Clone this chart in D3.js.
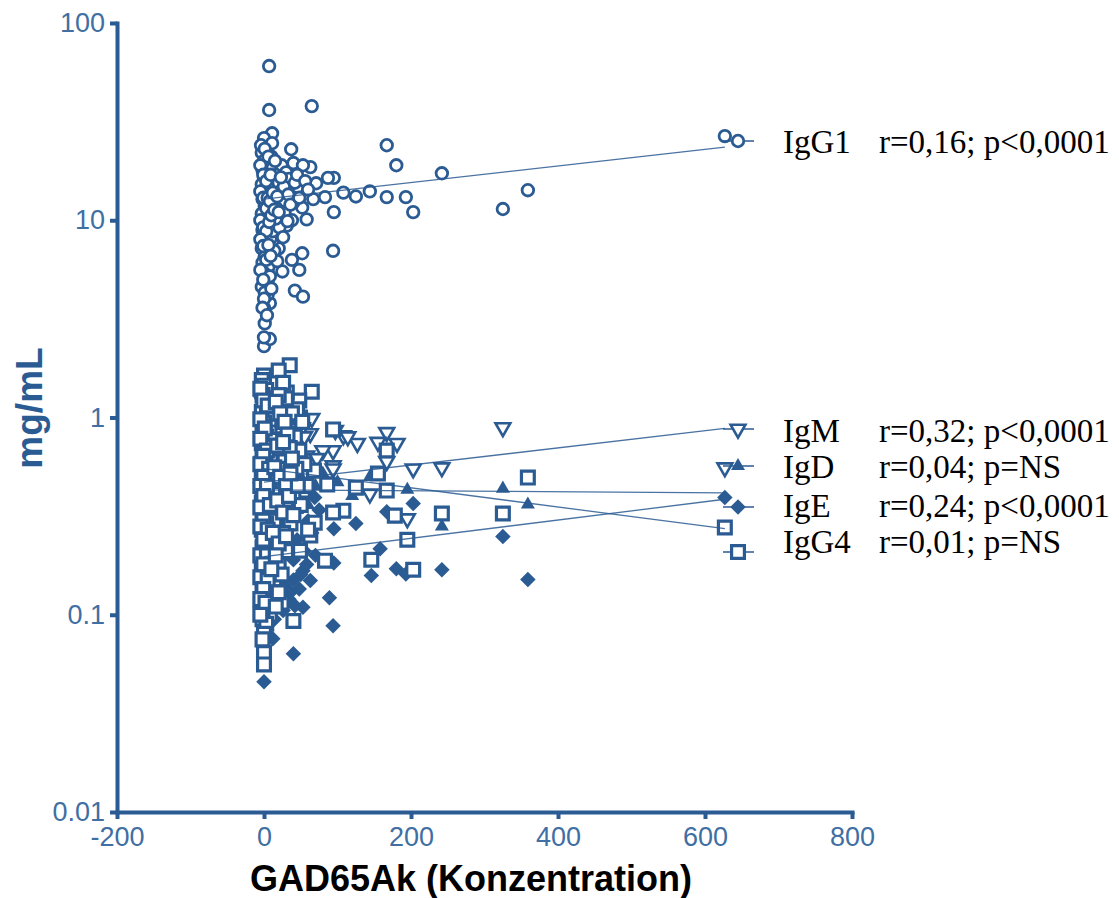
<!DOCTYPE html>
<html>
<head>
<meta charset="utf-8">
<script src="https://cdn.jsdelivr.net/npm/d3@7"></script>
<style>
  html, body { margin: 0; padding: 0; background: #fff; }
  svg { display: block; }
</style>
</head>
<body>
<svg id="chart" width="1119" height="898"></svg>
<script>
// ---------------- DATA ----------------
const xTicks = [-200, 0, 200, 400, 600, 800];
const yTicks = [0.01, 0.1, 1, 10, 100];
const yTickLabels = ["0.01", "0.1", "1", "10", "100"];
const xTitle = "GAD65Ak (Konzentration)";
const yTitle = "mg/mL";

const seriesNames = ["IgG1", "IgM", "IgD", "IgE", "IgG4"];
const seriesStats = ["r=0,16; p<0,0001", "r=0,32; p<0,0001", "r=0,04; p=NS", "r=0,24; p<0,0001", "r=0,01; p=NS"];

// regression lines [x0, y0, x1, y1]
const fitIgG1 = [0, 12.8, 627, 23.5];
const fitIgM  = [0, 0.47, 627, 0.88];
const fitIgD  = [0, 0.43, 627, 0.415];
const fitIgE  = [0, 0.197, 627, 0.385];
const fitIgG4 = [0, 0.55, 627, 0.273];

const igg1 = [
  [7,60.5],[7,36.2],[65,37.9],[11,27.6],[0,26.1],[11,24.6],[37,22.9],[0,21.9],[167,24.0],[180,19.0],
  [242,17.3],[359,14.2],[325,11.4],[203,11.0],[193,13.1],[167,13.1],[144,14.0],[125,13.2],[108,13.8],
  [95,11.0],[94,7.0],[95,16.4],[87,16.4],[83,13.1],[71,15.4],[67,12.8],[63,18.6],[58,10.1],[52,11.6],
  [52,6.8],[48,5.6],[42,4.4],[53,4.1],[38,6.3],[25,5.5],[19,8.6],[20,7.2],[12,6.3],[8,3.8],[1,3.0],
  [0,2.3],[8,2.5],[0,2.55],[5,4.8],[5,4.2],[0,3.6],[26,17.9],[40,19.5],[53,19.0],[46,14.7],[40,12.3],
  [31,15.6],[25,13.4],[38,10.0],[31,9.4],[12,7.9],[5,10.3],[627,26.7],
  [-3,22],[0,20],[2,19],[-2,18],[4,17.5],[0,16.5],[6,16],[-3,15.2],[2,14.5],[8,14],[0,13.5],[-2,12.8],
  [4,12.4],[1,11.8],[7,11.2],[-3,10.8],[3,10.3],[0,9.8],[5,9.3],[-2,8.9],[2,8.4],[9,8.1],[0,7.7],[-3,7.2],
  [4,6.9],[1,6.5],[-2,6.1],[6,5.8],[0,5.4],[3,5.0],[-3,4.6],[1,4.3],[0,4.0],[-2,3.6],[4,3.3],[10,21],
  [12,18.5],[14,16],[10,15],[15,13],[11,12],[13,10.5],[16,9.5],[12,8.8],[18,17],[20,15.5],[22,14],
  [25,12.5],[28,11],[17,11.5],[24,19],[30,17.5],[34,16.2],[27,14.8],[33,13.5],[36,12],[42,15.5],[45,17],
  [48,13],[56,15.8],[60,14.3],[21,9.2],[26,8.2],[14,7.0],[18,6.2],[8,5.2],[10,4.5],[16,10.2],[32,9.9],
  [-5,19],[-1,17],[3,15.8],[-5,14],[-1,13],[3,11.5],[-5,10],[-1,9.2],[3,8.8],[-5,8],[-1,7.4],[3,6.3],
  [-5,5.6],[-1,5],[5,13],[7,9.8],[9,17],[-4,24],[1,23],[6,21],[8,12.5],[10,10.6],[12,13.8],[14,11.3],
  [6,7.5],[9,6.6],[15,20],[18,13.2],[20,11],[23,16.5]
];

const igm = [
  [325,0.89],[242,0.557],[203,0.55],[167,0.84],[181,0.74],[155,0.75],[127,0.74],[108,0.81],[167,0.60],
  [144,0.41],[195,0.307],[94,0.57],[94,0.68],[80,0.68],[65,0.99],[63,0.83],[52,0.89],[97,0.86],[114,0.8],
  [627,0.557],[42,0.89],[58,0.64],[72,0.62],[94,0.55],
  [0,1.4],[-2,1.2],[3,1.05],[0,0.95],[6,0.88],[-3,0.8],[2,0.74],[9,0.7],[0,0.65],[-2,0.6],[4,0.56],
  [12,0.55],[0,0.5],[7,0.47],[-3,0.44],[2,0.41],[15,0.44],[0,0.38],[5,0.35],[-2,0.32],[20,0.62],[25,0.7],
  [30,0.78],[35,0.66],[40,0.85],[45,0.72],[28,0.52],[38,0.58],[18,0.92],[24,1.1],[10,1.25],[50,0.62],[55,0.8]
];

const igd = [
  [195,0.43],[325,0.436],[242,0.28],[359,0.362],[144,0.5],[100,0.47],[120,0.4],
  [0,0.85],[-2,0.72],[3,0.64],[0,0.58],[6,0.54],[-3,0.5],[2,0.47],[9,0.45],[0,0.42],[4,0.4],[-2,0.38],
  [12,0.37],[0,0.35],[6,0.33],[-3,0.31],[2,0.29],[15,0.3],[0,0.27],[8,0.25],[-2,0.23],[20,0.48],[25,0.42],
  [30,0.55],[35,0.38],[40,0.46],[45,0.34],[50,0.5],[55,0.42],[60,0.36],[70,0.45],[80,0.52]
];

const ige = [
  [0,0.0457],[40,0.0635],[94,0.088],[89,0.122],[53,0.109],[42,0.111],[12,0.0755],[146,0.158],[180,0.171],
  [193,0.161],[242,0.169],[359,0.151],[325,0.249],[158,0.216],[125,0.29],[95,0.273],[95,0.183],[167,0.333],
  [178,0.318],[203,0.366],[89,0.188],[63,0.149],[53,0.167],[69,0.393],[627,0.393],
  [0,0.48],[-2,0.42],[3,0.38],[0,0.35],[6,0.33],[-3,0.3],[2,0.28],[9,0.27],[0,0.25],[4,0.23],[-2,0.22],
  [12,0.21],[0,0.2],[6,0.19],[-3,0.18],[2,0.17],[15,0.17],[0,0.16],[8,0.15],[-2,0.14],[3,0.13],[0,0.12],
  [10,0.115],[-2,0.105],[20,0.26],[25,0.3],[30,0.22],[35,0.28],[40,0.19],[45,0.24],[50,0.16],[55,0.21],
  [60,0.3],[28,0.14],[36,0.13],[18,0.12],[44,0.36],[65,0.26],[75,0.34],[32,0.42],[52,0.38],[70,0.2],
  [22,0.35],[48,0.135],[26,0.105],[34,0.12],[14,0.095],[58,0.18],[40,0.15]
];

const igg4 = [
  [35,1.84],[20,1.73],[0,1.63],[65,1.35],[48,1.22],[94,0.87],[86,0.457],[125,0.441],[167,0.426],[155,0.52],
  [167,0.68],[242,0.326],[325,0.326],[359,0.496],[195,0.24],[178,0.318],[203,0.169],[146,0.19],[83,0.188],
  [108,0.337],[94,0.33],[40,0.093],[0,0.087],[0,0.064],[0,0.056],[12,0.167],[15,0.12],[49,0.211],[63,0.252],
  [69,0.293],[68,0.538],[53,0.426],[49,1.0],[31,1.34],[22,1.0],[627,0.277],
  [-3,1.55],[0,1.45],[3,1.38],[-2,1.3],[6,1.25],[1,1.18],[10,1.12],[-3,1.07],[4,1.02],[14,0.98],[0,0.94],
  [8,0.9],[-2,0.86],[18,0.84],[3,0.8],[12,0.77],[-3,0.74],[6,0.71],[22,0.7],[0,0.67],[15,0.64],[-2,0.62],
  [9,0.6],[28,0.6],[2,0.57],[19,0.55],[-3,0.53],[5,0.51],[12,0.49],[34,0.5],[0,0.47],[24,0.46],[-2,0.44],
  [8,0.42],[16,0.41],[40,0.4],[2,0.39],[-3,0.37],[11,0.36],[30,0.36],[0,0.34],[6,0.33],[20,0.32],[-2,0.31],
  [14,0.3],[3,0.29],[36,0.29],[-3,0.27],[9,0.26],[26,0.26],[0,0.25],[17,0.24],[5,0.23],[-2,0.22],[12,0.21],
  [30,0.21],[2,0.2],[8,0.19],[-3,0.18],[20,0.18],[0,0.17],[6,0.16],[14,0.15],[-2,0.145],[3,0.14],[10,0.13],
  [0,0.125],[-3,0.115],[5,0.11],[24,0.115],[0,0.105],[8,0.1],[-2,0.095],[3,0.09],[0,0.08],[-2,0.075],
  [45,1.1],[38,1.05],[52,0.95],[26,1.5],[30,1.25],[42,0.8],[48,0.68],[55,0.58],[44,0.55],[58,0.45],[35,0.7],
  [25,0.9],[50,0.36],[60,0.27],
  [-5,1.4],[-1,1.22],[5,1.15],[-5,0.98],[1,0.88],[-5,0.78],[4,0.68],[-1,0.64],[-5,0.58],[7,0.55],[-1,0.5],
  [-5,0.45],[4,0.45],[-1,0.4],[-5,0.35],[8,0.36],[-1,0.3],[-5,0.28],[5,0.27],[-1,0.24],[-5,0.2],[4,0.2],
  [-1,0.18],[-5,0.155],[5,0.15],[-1,0.135],[-5,0.12],[2,0.115],[-5,0.1],[20,1.3],[16,1.2],[22,1.05],
  [28,0.95],[32,0.82],[18,0.72],[26,0.75],[38,0.62],[14,0.56],[22,0.5],[30,0.45],[18,0.38],[26,0.33],
  [34,0.4],[12,0.26],[20,0.23],[16,0.2],[24,0.16],[10,0.17],[30,0.25],[40,0.32],[46,0.45],[36,0.52],
  [16,0.11],[20,0.13]
];

// ---------------- DRAW ----------------
const BLUE = "#2b5b93";
const TICKBLUE = "#3f6fa3";
const svg = d3.select("#chart");

const x = d3.scaleLinear().domain([-200, 800]).range([117, 852]);
const y = d3.scaleLog().domain([0.01, 100]).range([812, 23]);

// axes
const yAxis = d3.axisLeft(y).tickValues(yTicks)
  .tickFormat(d => yTickLabels[yTicks.indexOf(d)])
  .tickSizeInner(7).tickSizeOuter(0).tickPadding(5);
const xAxis = d3.axisBottom(x).tickValues(xTicks)
  .tickFormat(d => String(d))
  .tickSizeInner(7).tickSizeOuter(0).tickPadding(8);

const gy = svg.append("g").attr("transform", "translate(117,0)").call(yAxis);
const gx = svg.append("g").attr("transform", "translate(0,812)").call(xAxis);
[gx, gy].forEach(g => {
  g.select(".domain").attr("stroke", BLUE).attr("stroke-width", 4).attr("stroke-linecap", "square");
  g.selectAll(".tick line").attr("stroke", BLUE).attr("stroke-width", 4);
  g.selectAll(".tick text").attr("fill", TICKBLUE)
    .style("font-family", "'Liberation Sans', Arial, sans-serif").style("font-size", "27px");
});

// titles
svg.append("text")
  .attr("x", 471).attr("y", 891).attr("text-anchor", "middle")
  .style("font-family", "'Liberation Sans', Arial, sans-serif").style("font-weight", "bold")
  .style("font-size", "36px").attr("fill", "#000").text(xTitle);
svg.append("text")
  .attr("transform", "translate(42,408) rotate(-90)").attr("text-anchor", "middle")
  .style("font-family", "'Liberation Sans', Arial, sans-serif").style("font-weight", "bold")
  .style("font-size", "37px").attr("fill", BLUE).text(yTitle);

// symbols
const sym = {
  circle: d3.symbol().type(d3.symbolCircle).size(105)(),
  square: d3.symbol().type(d3.symbolSquare).size(165)(),
  triDown: d3.symbol().type(d3.symbolTriangle).size(95)(),
  triUp: d3.symbol().type(d3.symbolTriangle).size(85)(),
  diamond: d3.symbol().type(d3.symbolSquare).size(120)()
};
const styles = {
  IgG1: { path: sym.circle, rot: 0, fill: "#fff", sw: 2.8 },
  IgM:  { path: sym.triDown, rot: 180, fill: "#fff", sw: 2.6 },
  IgD:  { path: sym.triUp, rot: 0, fill: BLUE, sw: 0 },
  IgE:  { path: sym.diamond, rot: 45, fill: BLUE, sw: 0 },
  IgG4: { path: sym.square, rot: 0, fill: "#fff", sw: 3.2 }
};

const seriesData = { IgG1: igg1, IgM: igm, IgD: igd, IgE: ige, IgG4: igg4 };
const fits = { IgG1: fitIgG1, IgM: fitIgM, IgD: fitIgD, IgE: fitIgE, IgG4: fitIgG4 };

const drawOrder = ["IgG1", "IgM", "IgD", "IgE", "IgG4"];
drawOrder.forEach(name => {
  const st = styles[name];
  svg.append("g").selectAll("path").data(seriesData[name]).join("path")
    .attr("d", st.path)
    .attr("transform", d => `translate(${x(d[0])},${y(d[1])}) rotate(${st.rot})`)
    .attr("fill", st.fill)
    .attr("stroke", BLUE)
    .attr("stroke-width", st.sw);
});

// regression lines
drawOrder.forEach(name => {
  const f = fits[name];
  svg.append("line")
    .attr("x1", x(f[0])).attr("y1", y(f[1]))
    .attr("x2", x(f[2])).attr("y2", y(f[3]))
    .attr("stroke", BLUE).attr("stroke-width", 1.3).attr("opacity", 0.85);
});

// legend
const legendSymY = [141, 429, 466, 507, 552];
const legendTextY = [153, 442, 478, 517, 553];
seriesNames.forEach((name, i) => {
  const st = styles[name];
  const g = svg.append("g");
  g.append("line").attr("x1", 723).attr("x2", 754)
    .attr("y1", legendSymY[i]).attr("y2", legendSymY[i])
    .attr("stroke", BLUE).attr("stroke-width", 1.5);
  g.append("path").attr("d", st.path)
    .attr("transform", `translate(738,${legendSymY[i]}) rotate(${st.rot})`)
    .attr("fill", st.fill).attr("stroke", BLUE).attr("stroke-width", st.sw);
  g.append("text").attr("x", 783).attr("y", legendTextY[i])
    .style("font-family", "'Liberation Serif', 'Times New Roman', serif").style("font-size", "33px")
    .attr("fill", "#000").text(name);
  g.append("text").attr("x", 879).attr("y", legendTextY[i])
    .style("font-family", "'Liberation Serif', 'Times New Roman', serif").style("font-size", "33px")
    .attr("fill", "#000").text(seriesStats[i]);
});
</script>
</body>
</html>
